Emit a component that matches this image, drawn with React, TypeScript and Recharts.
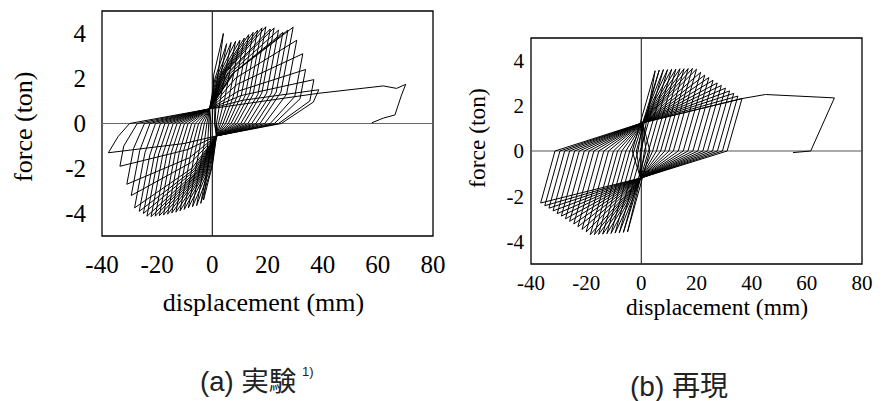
import React from "react";
import {
  LineChart,
  Line,
  XAxis,
  YAxis,
  ReferenceLine,
  ReferenceArea,
} from "recharts";

type Pt = [number, number];

const xTicks = [-40, -20, 0, 20, 40, 60, 80];
const yTicks = [-4, -2, 0, 2, 4];

// ---- (a) experiment: displacement (mm) / force (ton) ----
const aUpperPinch: Pt = [-1.0, 0.65];
const aLowerPinch: Pt = [1.5, -0.55];

const aPosBend: Pt[] = [
  [0.5, 2.16], [0.86, 1.96], [1.34, 1.98], [1.82, 2.0], [2.3, 2.02], [2.78, 2.07],
  [3.26, 2.14], [3.74, 2.18], [4.22, 2.23], [4.7, 2.27], [5.12, 2.29], [5.6, 2.25],
  [6.02, 2.27], [6.5, 2.23], [6.98, 2.18], [7.52, 2.23], [8.09, 2.28], [8.48, 2.02],
  [9.14, 1.75], [9.44, 1.44], [10.34, 1.24], [10.88, 1.03],
];
const aPosPeak: Pt[] = [
  [4.0, 4.0], [5.2, 3.55], [6.8, 3.6], [8.4, 3.65], [10.0, 3.7], [11.6, 3.8],
  [13.2, 3.95], [14.8, 4.05], [16.4, 4.15], [18.0, 4.25], [19.4, 4.3], [21.0, 4.2],
  [22.4, 4.25], [24.0, 4.15], [25.6, 4.05], [27.4, 4.15], [29.3, 4.28], [30.6, 3.7],
  [32.8, 3.1], [33.8, 2.4], [36.8, 1.95], [38.6, 1.5],
];
const aPosKnee: Pt[] = [
  [1.0, 1.2], [1.43, 1.1], [2.95, 1.1], [4.48, 1.1], [6.0, 1.1], [7.6, 1.2],
  [8.97, 1.2], [10.49, 1.25], [11.94, 1.25], [13.46, 1.3], [14.78, 1.3], [16.54, 1.3],
  [17.94, 1.35], [19.69, 1.35], [21.45, 1.35], [23.17, 1.4], [24.87, 1.4], [26.91, 1.3],
  [29.88, 1.2], [31.8, 1.1], [35.34, 1.0], [36.6, 0.95],
];
const aPosZero: Pt[] = [
  [0.8, 0], [1.0, 0], [1.5, 0], [2.2, 0], [3.0, 0], [3.9, 0], [4.8, 0], [5.8, 0],
  [6.8, 0], [7.9, 0], [9.0, 0], [10.3, 0], [11.5, 0], [12.9, 0], [14.3, 0], [15.8, 0],
  [17.3, 0], [19.0, 0], [21.0, 0], [22.5, 0], [24.0, 0], [25.0, 0],
];
const aNegBend: Pt[] = [
  [0.09, -1.83], [-0.21, -1.9], [-0.66, -1.95], [-1.11, -1.97], [-1.56, -1.99],
  [-2.01, -2.02], [-2.46, -2.05], [-2.91, -2.08], [-3.36, -2.09], [-3.81, -2.12],
  [-4.26, -2.13], [-4.71, -2.15], [-5.16, -2.16], [-5.61, -2.17], [-6.06, -2.16],
  [-6.45, -2.1], [-6.9, -2.06], [-7.41, -1.99], [-7.77, -1.74], [-8.25, -1.52],
  [-9.0, -1.16], [-10.26, -0.89],
];
const aNegPeak: Pt[] = [
  [-3.2, -3.4], [-4.2, -3.55], [-5.7, -3.65], [-7.2, -3.7], [-8.7, -3.75], [-10.2, -3.82],
  [-11.7, -3.88], [-13.2, -3.94], [-14.7, -3.98], [-16.2, -4.03], [-17.7, -4.07],
  [-19.2, -4.1], [-20.7, -4.12], [-22.2, -4.14], [-23.7, -4.12], [-25.0, -4.0],
  [-26.5, -3.9], [-28.2, -3.75], [-29.4, -3.2], [-31.0, -2.7], [-33.5, -1.9], [-37.7, -1.3],
];
const aNegKnee: Pt[] = [
  [-0.8, -1.2], [-0.43, -1.1], [-1.78, -1.1], [-3.2, -1.1], [-4.62, -1.1], [-6.17, -1.2],
  [-7.58, -1.2], [-9.06, -1.25], [-10.5, -1.25], [-12.0, -1.3], [-13.44, -1.3],
  [-14.89, -1.3], [-16.44, -1.35], [-17.91, -1.35], [-19.44, -1.35], [-21.0, -1.4],
  [-22.65, -1.4], [-24.43, -1.3], [-26.32, -1.2], [-28.54, -1.1], [-32.12, -1.0], [-34.1, -0.57],
];
const aNegZero: Pt[] = [
  [-0.5, 0], [-0.8, 0], [-1.3, 0], [-2.0, 0], [-2.9, 0], [-3.9, 0], [-5.0, 0], [-6.2, 0],
  [-7.5, 0], [-8.8, 0], [-10.1, 0], [-11.4, 0], [-12.8, 0], [-14.2, 0], [-15.7, 0],
  [-17.2, 0], [-18.8, 0], [-20.6, 0], [-22.6, 0], [-24.6, 0], [-27.2, 0], [-30.0, 0],
];
const aTail: Pt[] = [
  [38.3, 1.34], [62.0, 1.67], [66.8, 1.56], [70.1, 1.74], [68.6, 1.27], [66.2, 0.38],
  [62.0, 0.24], [57.8, 0.03],
];

// ---- (b) simulation ----
const bUpperPinch: Pt = [0.5, 1.25];
const bLowerPinch: Pt = [-0.3, -1.2];

const bPosPeak: Pt[] = [
  [5, 3.55], [6.5, 3.58], [8, 3.6], [9.5, 3.6], [11, 3.62], [12.5, 3.62], [14, 3.64],
  [15.5, 3.64], [17, 3.65], [18.5, 3.65], [20, 3.62], [21.5, 3.48], [23, 3.36],
  [24.5, 3.25], [26, 3.13], [27.5, 3.01], [29, 2.9], [30.5, 2.78], [32, 2.66],
  [33.5, 2.55], [35, 2.43], [36.5, 2.32],
];
const bPosZero: Pt[] = [
  [-3.3, 0], [-1.8, 0], [-0.4, 0], [1.1, 0], [2.6, 0], [4.1, 0], [5.5, 0], [7.0, 0],
  [8.5, 0], [10.0, 0], [11.6, 0], [13.4, 0], [15.2, 0], [16.9, 0], [18.7, 0], [20.5, 0],
  [22.3, 0], [24.0, 0], [25.8, 0], [27.6, 0], [29.4, 0], [31.1, 0],
];
const bNegPeak: Pt[] = [
  [-5, -3.58], [-6.5, -3.6], [-8, -3.62], [-9.5, -3.63], [-11, -3.65], [-12.5, -3.66],
  [-14, -3.68], [-15.5, -3.69], [-17, -3.7], [-18.5, -3.7], [-20, -3.58], [-21.5, -3.47],
  [-23, -3.35], [-24.5, -3.23], [-26, -3.11], [-27.5, -3.0], [-29, -2.88], [-30.5, -2.77],
  [-32, -2.65], [-33.5, -2.53], [-35, -2.42], [-36.5, -2.3],
];
const bNegZero: Pt[] = [
  [3.1, 0], [1.7, 0], [0.2, 0], [-1.2, 0], [-2.7, 0], [-4.2, 0], [-5.6, 0], [-7.1, 0],
  [-8.6, 0], [-10.1, 0], [-11.9, 0], [-13.6, 0], [-15.4, 0], [-17.2, 0], [-18.9, 0],
  [-20.7, 0], [-22.5, 0], [-24.2, 0], [-26.0, 0], [-27.8, 0], [-29.5, 0], [-31.3, 0],
];
const bTail: Pt[] = [[36.5, 2.32], [45.0, 2.5], [70.0, 2.35], [61.4, 0.0], [55.0, -0.07]];

// walk the cycles in loading order: +side legs, lower pinch, -side legs, upper pinch...
function trace(pos: Pt[][], neg: Pt[][], upper: Pt, lower: Pt, tail: Pt[]) {
  const pts: Pt[] = [[0, 0]];
  for (let i = 0; i < pos[0].length; i++) {
    if (i > 0) pts.push(upper);
    pos.forEach((leg) => pts.push(leg[i]));
    pts.push(lower);
    neg.forEach((leg) => pts.push(leg[i]));
  }
  pts.push(upper, ...tail);
  return pts.map(([x, y]) => ({ x, y }));
}

const loopA = trace(
  [aPosBend, aPosPeak, aPosKnee, aPosZero],
  [aNegBend, aNegPeak, aNegKnee, aNegZero],
  aUpperPinch,
  aLowerPinch,
  aTail
);
const loopB = trace([bPosPeak, bPosZero], [bNegPeak, bNegZero], bUpperPinch, bLowerPinch, bTail);

const serif = "Liberation Serif";
const sans = "Liberation Sans, Noto Sans CJK JP";

// tick text inherits the serif family from the wrapper div
const xTick = (fontSize: number) => (props: any) => (
  <text x={props.x} y={props.y} dy="0.71em" textAnchor="middle" fontSize={fontSize} fill="#000">
    {props.payload.value}
  </text>
);
const yTick = (fontSize: number) => (props: any) => (
  <text x={props.x} y={props.y} dy="0.355em" textAnchor="end" fontSize={fontSize} fill="#000">
    {props.payload.value}
  </text>
);

interface PanelProps {
  data: { x: number; y: number }[];
  width: number;
  height: number;
  margin: { top: number; right: number; bottom: number; left: number };
  yAxisWidth: number;
  xAxisHeight: number;
  fontSize: number;
  xTickMargin: number;
  yTickMargin: number;
  vZero: string;
  hZero: string;
}

function Panel(p: PanelProps) {
  return (
    <LineChart width={p.width} height={p.height} margin={p.margin}>
      <XAxis
        type="number"
        dataKey="x"
        domain={[-40, 80]}
        ticks={xTicks}
        interval={0}
        allowDataOverflow
        axisLine={false}
        tickLine={false}
        tickSize={0}
        tickMargin={p.xTickMargin}
        height={p.xAxisHeight}
        tick={xTick(p.fontSize)}
      />
      <YAxis
        type="number"
        dataKey="y"
        domain={[-5, 5]}
        ticks={yTicks}
        interval={0}
        allowDataOverflow
        axisLine={false}
        tickLine={false}
        tickSize={0}
        tickMargin={p.yTickMargin}
        width={p.yAxisWidth}
        tick={yTick(p.fontSize)}
      />
      <ReferenceLine x={0} stroke={p.vZero} strokeWidth={1.2} />
      <ReferenceLine y={0} stroke={p.hZero} strokeWidth={1.2} />
      <Line
        data={p.data}
        dataKey="y"
        type="linear"
        stroke="#000"
        strokeWidth={1}
        dot={false}
        activeDot={false}
        isAnimationActive={false}
      />
      <ReferenceArea
        x1={-40}
        x2={80}
        y1={-5}
        y2={5}
        fill="none"
        stroke="#000"
        strokeWidth={1.3}
        ifOverflow="visible"
      />
    </LineChart>
  );
}

export default function App() {
  return (
    <div
      style={{
        position: "absolute",
        left: 0,
        top: 0,
        width: 885,
        height: 401,
        background: "#fff",
        overflow: "hidden",
        fontFamily: serif,
      }}
    >
      <div style={{ position: "absolute", left: 0, top: 0 }}>
        <Panel
          data={loopA}
          width={450}
          height={330}
          margin={{ top: 11, right: 17, bottom: 0, left: 0 }}
          yAxisWidth={102}
          xAxisHeight={94}
          fontSize={25}
          xTickMargin={19}
          yTickMargin={16}
          vZero="#222"
          hZero="#666"
        />
      </div>
      <div style={{ position: "absolute", left: 440, top: 0 }}>
        <Panel
          data={loopB}
          width={445}
          height={330}
          margin={{ top: 38, right: 23, bottom: 0, left: 0 }}
          yAxisWidth={91}
          xAxisHeight={66}
          fontSize={21}
          xTickMargin={11}
          yTickMargin={7}
          vZero="#333"
          hZero="#555"
        />
      </div>
      <svg
        width={885}
        height={401}
        style={{ position: "absolute", left: 0, top: 0, pointerEvents: "none" }}
      >
        <g fill="#000">
          <text x={263.5} y={311} fontSize={26} textAnchor="middle">
            displacement (mm)
          </text>
          <text transform="translate(32.3,126.7) rotate(-90)" fontSize={26} textAnchor="middle">
            force (ton)
          </text>
          <text x={717} y={315} fontSize={23.5} textAnchor="middle">
            displacement (mm)
          </text>
          <text transform="translate(485,138) rotate(-90)" fontSize={23.5} textAnchor="middle">
            force (ton)
          </text>
        </g>
        <g style={{ fontFamily: sans }} fill="#222">
          <text x={200} y={391} fontSize={27.5}>
            (a) 実験
          </text>
          <text x={302} y={376} fontSize={13}>
            1)
          </text>
          <text x={630} y={396} fontSize={28}>
            (b) 再現
          </text>
        </g>
      </svg>
    </div>
  );
}
